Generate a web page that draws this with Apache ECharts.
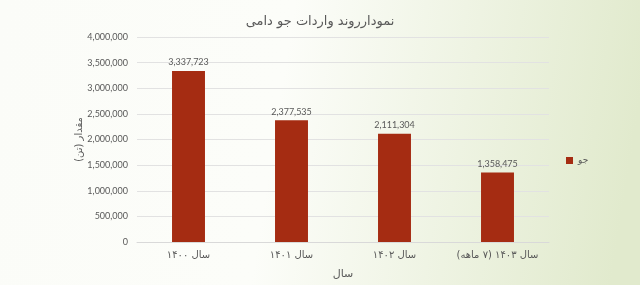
<!DOCTYPE html>
<html><head><meta charset="utf-8">
<script src="https://cdn.jsdelivr.net/npm/echarts@6/dist/echarts.min.js"></script>
<style>html,body{margin:0;padding:0;}#c{width:640px;height:285px;}</style>
</head><body><div id="c"></div>
<script>
const categories = ['سال ۱۴۰۰', 'سال ۱۴۰۱', 'سال ۱۴۰۲', 'سال ۱۴۰۳ (۷ ماهه)'];
const values = [3337723, 2377535, 2111304, 1358475];
const seriesName = 'جو';
const titleText = 'نمودارروند واردات جو دامی';
const yName = 'مقدار (تن)';
const xName = 'سال';

const chart = echarts.init(document.getElementById('c'), null, {renderer: 'canvas'});
const txt = '#595959';
const fam = 'Lato, "DejaVu Sans", sans-serif';
chart.setOption({
  backgroundColor: new echarts.graphic.LinearGradient(0, 0, 1, 0.35, [
    {offset: 0, color: '#fbfcf8'},
    {offset: 0.45, color: '#fcfdf9'},
    {offset: 1, color: '#e1eacd'}
  ]),
  title: {text: titleText, left: 'center', top: 10,
    textStyle: {fontFamily: '"DejaVu Sans", sans-serif', fontSize: 13, fontWeight: 'normal', color: txt}},
  legend: {data: [seriesName], left: 561, top: 151, orient: 'vertical', itemWidth: 7, itemHeight: 7,
    icon: 'rect', itemGap: 4,
    textStyle: {fontFamily: '"DejaVu Sans", sans-serif', fontSize: 9, color: txt}},
  grid: {left: 137, right: 91, top: 37, bottom: 41, containLabel: false},
  xAxis: {type: 'category', data: categories,
    name: xName, nameLocation: 'middle', nameGap: 27,
    nameTextStyle: {fontFamily: '"DejaVu Sans", sans-serif', fontSize: 11, color: txt},
    axisLine: {lineStyle: {color: '#d9d9d9'}}, axisTick: {show: false},
    axisLabel: {interval: 0, hideOverlap: false, fontFamily: '"DejaVu Sans", sans-serif', fontSize: 10, color: txt, margin: 8}},
  yAxis: {type: 'value', min: 0, max: 4000000, interval: 500000,
    name: yName, nameLocation: 'middle', nameGap: 53, nameRotate: 90, nameMoveOverlap: false,
    nameTextStyle: {fontFamily: '"DejaVu Sans", sans-serif', fontSize: 10, color: txt},
    axisLine: {show: false}, axisTick: {show: false},
    splitLine: {lineStyle: {color: '#e2e2e2'}},
    axisLabel: {fontFamily: fam, fontSize: 9, color: txt, margin: 9,
      formatter: v => v.toLocaleString('en-US')}},
  series: [{name: seriesName, type: 'bar', data: values, barWidth: '32%',
    itemStyle: {color: '#a52c12'},
    label: {show: true, position: 'top', distance: 4, fontFamily: fam, fontSize: 9, color: txt,
      formatter: p => p.value.toLocaleString('en-US')}}]
});
</script></body></html>
